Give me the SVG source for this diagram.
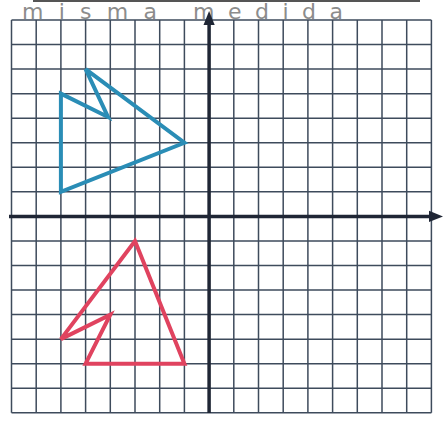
<svg xmlns="http://www.w3.org/2000/svg" width="443" height="425" viewBox="0 0 443 425">
<style>
.grid{stroke:#3e4b5c;stroke-width:1.5;fill:none}
.axis{stroke:#1f2635;stroke-width:3.5;fill:none}
.head{fill:#1f2635}
.hand{font-family:"DejaVu Sans","Liberation Sans",sans-serif;font-size:22px;fill:#8c8c8c;font-weight:normal}
.shape{fill:none;stroke-width:4;stroke-linejoin:miter}
</style>
<rect width="443" height="425" fill="#ffffff"/>
<line x1="33" y1="1" x2="420" y2="1" stroke="#555" stroke-width="2"/>
<g id="title">
<text class="hand" x="22" y="19" textLength="135" lengthAdjust="spacing">misma</text>
<text class="hand" x="193" y="19" textLength="150" lengthAdjust="spacing">medida</text>
</g>
<g id="grid" class="grid">
<path d="M11.5 20V412.8M36.2 20V412.8M60.9 20V412.8M85.6 20V412.8M110.3 20V412.8M135 20V412.8M159.7 20V412.8M184.4 20V412.8M233.8 20V412.8M258.5 20V412.8M283.2 20V412.8M307.9 20V412.8M332.6 20V412.8M357.3 20V412.8M382 20V412.8M406.7 20V412.8M431.4 20V412.8"/>
<path d="M11.5 20H431.4M11.5 44.55H431.4M11.5 69.1H431.4M11.5 93.65H431.4M11.5 118.2H431.4M11.5 142.75H431.4M11.5 167.3H431.4M11.5 191.85H431.4M11.5 240.95H431.4M11.5 265.5H431.4M11.5 290.05H431.4M11.5 314.6H431.4M11.5 339.15H431.4M11.5 363.7H431.4M11.5 388.25H431.4M11.5 412.8H431.4"/>
</g>
<g id="axes">
<line class="axis" x1="209.1" y1="413" x2="209.1" y2="22"/>
<polygon class="head" points="209.1,11 203.5,25 214.7,25"/>
<line class="axis" x1="9" y1="216.4" x2="433" y2="216.4"/>
<polygon class="head" points="443,216.4 429,210.8 429,222"/>
</g>
<g id="blue-shape">
<path class="shape" stroke="#2a8db6" d="M60.9 93.65L108 117L85.6 69.1L184.4 142.75L60.9 191.85Z"/>
</g>
<g id="red-shape">
<path class="shape" stroke="#e0435f" d="M135 240.95L184.4 363.7L85.6 363.7L110.3 314.6L60.9 339.15Z"/>
</g>
</svg>
